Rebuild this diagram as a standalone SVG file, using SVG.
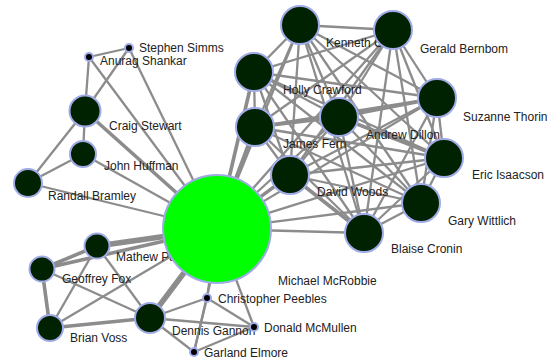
<svg xmlns="http://www.w3.org/2000/svg" width="553" height="362" viewBox="0 0 553 362">
  <style>
    .e { stroke: #8c8c8c; stroke-width: 2.3; fill: none; }
    .t { stroke-width: 3.6; }
    .tt { stroke-width: 5.5; }
    .big { fill: #002200; stroke: #a0aae6; stroke-width: 2; }
    .hub { fill: #00ff00; stroke: #a0aae6; stroke-width: 2; }
    .dot { fill: #000000; stroke: #a0aae6; stroke-width: 2; }
    text { font-family: "Liberation Sans", Arial, sans-serif; font-size: 12px; fill: #222222; }
  </style>
  <rect width="553" height="362" fill="#ffffff"/>

  <!-- connectors -->
  <g id="edges">
    <!-- left group -->
    <line class="e" x1="129" y1="48" x2="89" y2="57"/>
    <line class="e" x1="89" y1="57" x2="85" y2="111"/>
    <line class="e" x1="129" y1="48" x2="85" y2="111"/>
    <line class="e" x1="89" y1="57" x2="217" y2="229"/>
    <line class="e" x1="129" y1="48" x2="217" y2="229"/>
    <line class="e" x1="85" y1="111" x2="83" y2="154"/>
    <line class="e" x1="85" y1="111" x2="28" y2="183"/>
    <line class="e t" x1="85" y1="111" x2="217" y2="229"/>
    <line class="e" x1="83" y1="154" x2="28" y2="183"/>
    <line class="e" x1="83" y1="154" x2="217" y2="229"/>
    <line class="e" x1="28" y1="183" x2="217" y2="229"/>
    <!-- lower left group -->
    <line class="e tt" x1="97" y1="246" x2="217" y2="229"/>
    <line class="e t" x1="42" y1="269" x2="217" y2="229"/>
    <line class="e t" x1="42" y1="269" x2="97" y2="246"/>
    <line class="e t" x1="42" y1="269" x2="50" y2="328"/>
    <line class="e" x1="42" y1="269" x2="150" y2="318"/>
    <line class="e" x1="97" y1="246" x2="50" y2="328"/>
    <line class="e" x1="97" y1="246" x2="150" y2="318"/>
    <line class="e t" x1="50" y1="328" x2="150" y2="318"/>
    <line class="e" x1="50" y1="328" x2="217" y2="229"/>
    <line class="e tt" x1="150" y1="318" x2="217" y2="229"/>
    <line class="e" x1="150" y1="318" x2="207" y2="298"/>
    <line class="e" x1="150" y1="318" x2="254" y2="327"/>
    <line class="e" x1="150" y1="318" x2="194" y2="352"/>
    <line class="e" x1="207" y1="298" x2="217" y2="229"/>
    <line class="e" x1="207" y1="298" x2="254" y2="327"/>
    <line class="e" x1="207" y1="298" x2="194" y2="352"/>
    <line class="e" x1="194" y1="352" x2="254" y2="327"/>
    <line class="e" x1="194" y1="352" x2="212" y2="275"/>
    <line class="e" x1="254" y1="327" x2="217" y2="229"/>
    <!-- hub to right cluster -->
    <line class="e" x1="217" y1="229" x2="300" y2="25"/>
    <line class="e" x1="217" y1="229" x2="393" y2="30"/>
    <line class="e t" x1="217" y1="229" x2="254" y2="72"/>
    <line class="e t" x1="217" y1="229" x2="255" y2="127"/>
    <line class="e" x1="217" y1="229" x2="339" y2="117"/>
    <line class="e" x1="217" y1="229" x2="437" y2="98"/>
    <line class="e" x1="217" y1="229" x2="444" y2="158"/>
    <line class="e t" x1="217" y1="229" x2="290" y2="175"/>
    <line class="e" x1="217" y1="229" x2="421" y2="203"/>
    <line class="e" x1="217" y1="229" x2="364" y2="233"/>
    <!-- right cluster -->
    <line class="e" x1="300" y1="25" x2="393" y2="30"/>
    <line class="e" x1="300" y1="25" x2="254" y2="72"/>
    <line class="e" x1="300" y1="25" x2="255" y2="127"/>
    <line class="e" x1="300" y1="25" x2="339" y2="117"/>
    <line class="e" x1="300" y1="25" x2="437" y2="98"/>
    <line class="e" x1="300" y1="25" x2="444" y2="158"/>
    <line class="e" x1="300" y1="25" x2="290" y2="175"/>
    <line class="e" x1="300" y1="25" x2="421" y2="203"/>
    <line class="e" x1="300" y1="25" x2="364" y2="233"/>
    <line class="e" x1="393" y1="30" x2="254" y2="72"/>
    <line class="e" x1="393" y1="30" x2="255" y2="127"/>
    <line class="e" x1="393" y1="30" x2="339" y2="117"/>
    <line class="e" x1="393" y1="30" x2="437" y2="98"/>
    <line class="e" x1="393" y1="30" x2="444" y2="158"/>
    <line class="e" x1="393" y1="30" x2="290" y2="175"/>
    <line class="e" x1="393" y1="30" x2="421" y2="203"/>
    <line class="e" x1="393" y1="30" x2="364" y2="233"/>
    <line class="e" x1="254" y1="72" x2="255" y2="127"/>
    <line class="e" x1="254" y1="72" x2="339" y2="117"/>
    <line class="e" x1="254" y1="72" x2="437" y2="98"/>
    <line class="e" x1="254" y1="72" x2="444" y2="158"/>
    <line class="e" x1="254" y1="72" x2="290" y2="175"/>
    <line class="e" x1="254" y1="72" x2="421" y2="203"/>
    <line class="e" x1="254" y1="72" x2="364" y2="233"/>
    <line class="e t" x1="255" y1="127" x2="339" y2="117"/>
    <line class="e" x1="255" y1="127" x2="437" y2="98"/>
    <line class="e" x1="255" y1="127" x2="444" y2="158"/>
    <line class="e" x1="255" y1="127" x2="290" y2="175"/>
    <line class="e" x1="255" y1="127" x2="421" y2="203"/>
    <line class="e" x1="255" y1="127" x2="364" y2="233"/>
    <line class="e t" x1="339" y1="117" x2="437" y2="98"/>
    <line class="e t" x1="339" y1="117" x2="444" y2="158"/>
    <line class="e" x1="339" y1="117" x2="290" y2="175"/>
    <line class="e" x1="339" y1="117" x2="421" y2="203"/>
    <line class="e" x1="339" y1="117" x2="364" y2="233"/>
    <line class="e" x1="437" y1="98" x2="444" y2="158"/>
    <line class="e" x1="437" y1="98" x2="290" y2="175"/>
    <line class="e" x1="437" y1="98" x2="421" y2="203"/>
    <line class="e" x1="437" y1="98" x2="364" y2="233"/>
    <line class="e" x1="444" y1="158" x2="290" y2="175"/>
    <line class="e" x1="444" y1="158" x2="421" y2="203"/>
    <line class="e" x1="444" y1="158" x2="364" y2="233"/>
    <line class="e" x1="290" y1="175" x2="421" y2="203"/>
    <line class="e t" x1="290" y1="175" x2="364" y2="233"/>
    <line class="e" x1="421" y1="203" x2="364" y2="233"/>
  </g>

  <!-- labels sit under the node discs -->
  <g id="labels">
    <text x="139" y="52">Stephen Simms</text>
    <text x="100" y="65">Anurag Shankar</text>
    <text x="109" y="130">Craig Stewart</text>
    <text x="104" y="170">John Huffman</text>
    <text x="48" y="200">Randall Bramley</text>
    <text x="116" y="261">Mathew Palakal</text>
    <text x="62" y="283">Geoffrey Fox</text>
    <text x="70" y="342">Brian Voss</text>
    <text x="172" y="335">Dennis Gannon</text>
    <text x="218" y="303">Christopher Peebles</text>
    <text x="264" y="332">Donald McMullen</text>
    <text x="204" y="357">Garland Elmore</text>
    <text x="278" y="285">Michael McRobbie</text>
    <text x="326" y="47">Kenneth Chiu</text>
    <text x="420" y="53">Gerald Bernbom</text>
    <text x="283" y="94">Holly Crawford</text>
    <text x="283" y="148">James Fern</text>
    <text x="366" y="139">Andrew Dillon</text>
    <text x="463" y="121">Suzanne Thorin</text>
    <text x="472" y="179">Eric Isaacson</text>
    <text x="317" y="196">David Woods</text>
    <text x="448" y="225">Gary Wittlich</text>
    <text x="391" y="253">Blaise Cronin</text>
  </g>

  <!-- nodes -->
  <g id="n-stephen-simms"><circle class="dot" cx="129" cy="48" r="4"/></g>
  <g id="n-anurag-shankar"><circle class="dot" cx="89" cy="57" r="4"/></g>
  <g id="n-craig-stewart"><circle class="big" cx="85" cy="111" r="15.5"/></g>
  <g id="n-john-huffman"><circle class="big" cx="83" cy="154" r="13"/></g>
  <g id="n-randall-bramley"><circle class="big" cx="28" cy="183" r="14"/></g>
  <g id="n-mathew-palakal"><circle class="big" cx="97" cy="246" r="12.5"/></g>
  <g id="n-geoffrey-fox"><circle class="big" cx="42" cy="269" r="12.5"/></g>
  <g id="n-brian-voss"><circle class="big" cx="50" cy="328" r="13"/></g>
  <g id="n-dennis-gannon"><circle class="big" cx="150" cy="318" r="15"/></g>
  <g id="n-christopher-peebles"><circle class="dot" cx="207" cy="298" r="4"/></g>
  <g id="n-donald-mcmullen"><circle class="dot" cx="254" cy="327" r="4"/></g>
  <g id="n-garland-elmore"><circle class="dot" cx="194" cy="352" r="4"/></g>
  <g id="n-michael-mcrobbie"><circle class="hub" cx="217" cy="229" r="54"/></g>
  <g id="n-kenneth-chiu"><circle class="big" cx="300" cy="25" r="19"/></g>
  <g id="n-gerald-bernbom"><circle class="big" cx="393" cy="30" r="19"/></g>
  <g id="n-holly-crawford"><circle class="big" cx="254" cy="72" r="19"/></g>
  <g id="n-james-fern"><circle class="big" cx="255" cy="127" r="19"/></g>
  <g id="n-andrew-dillon"><circle class="big" cx="339" cy="117" r="19"/></g>
  <g id="n-suzanne-thorin"><circle class="big" cx="437" cy="98" r="19"/></g>
  <g id="n-eric-isaacson"><circle class="big" cx="444" cy="158" r="19"/></g>
  <g id="n-david-woods"><circle class="big" cx="290" cy="175" r="19"/></g>
  <g id="n-gary-wittlich"><circle class="big" cx="421" cy="203" r="19"/></g>
  <g id="n-blaise-cronin"><circle class="big" cx="364" cy="233" r="19"/></g>
</svg>
